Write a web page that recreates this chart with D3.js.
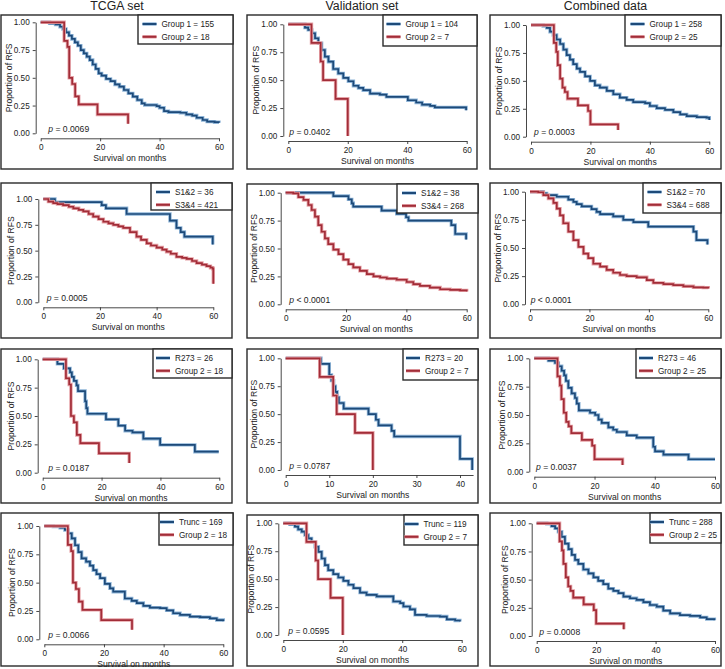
<!DOCTYPE html>
<html><head><meta charset="utf-8">
<script src="https://cdn.jsdelivr.net/npm/d3@7"></script>
<style>
body{margin:0;background:#fff}
svg{display:block}
text{font-family:"Liberation Sans",Arial,Helvetica,sans-serif;fill:#222}
</style>
</head><body>
<svg id="c" width="725" height="669"></svg>
<script>
// ---------------- DATA ----------------
const columnTitles = ["TCGA set", "Validation set", "Combined data"];
const yTicks = [0, 0.25, 0.5, 0.75, 1];
const xTicks60 = [0, 20, 40, 60];
const xTicks40 = [0, 10, 20, 30, 40];
const pValues = ["= 0.0069", "= 0.0402", "= 0.0003",
                 "= 0.0005", "< 0.0001", "< 0.0001",
                 "= 0.0187", "= 0.0787", "= 0.0037",
                 "= 0.0066", "= 0.0595", "= 0.0008"];
const legendLabels = [
  ["Group 1 = 155", "Group 2 = 18"], ["Group 1 = 104", "Group 2 = 7"], ["Group 1 = 258", "Group 2 = 25"],
  ["S1&2 = 36", "S3&4 = 421"], ["S1&2 = 38", "S3&4 = 268"], ["S1&2 = 70", "S3&4 = 688"],
  ["R273 = 26", "Group 2 = 18"], ["R273 = 20", "Group 2 = 7"], ["R273 = 46", "Group 2 = 25"],
  ["Trunc = 169", "Group 2 = 18"], ["Trunc = 119", "Group 2 = 7"], ["Trunc = 288", "Group 2 = 25"]
];

// [month, proportion] step points
const tcgaGroup1 = [[0,1],[3,0.99],[5,0.98],[6.5,0.96],[7.5,0.94],[8.5,0.91],[9.5,0.88],[10.5,0.85],[11.5,0.82],[12.5,0.79],[13.5,0.75],[14.5,0.72],[15.5,0.69],[16.5,0.66],[17.5,0.62],[18.5,0.58],[19.5,0.54],[20.5,0.52],[22,0.49],[23.5,0.47],[25,0.44],[26.5,0.42],[28,0.39],[29.5,0.36],[31,0.33],[32.5,0.30],[34,0.27],[35,0.255],[39,0.245],[40,0.23],[41.5,0.2],[43,0.19],[47,0.185],[49,0.17],[51,0.16],[52.5,0.14],[54.5,0.12],[56,0.105],[58.5,0.1],[60,0.095]];
const tcgaGroup2 = [[0,1],[7.9,0.833],[9.0,0.778],[9.6,0.5],[10.6,0.444],[11.6,0.333],[12.8,0.26],[19.1,0.17],[29.4,0.085]];
const valGroup1 = [[0,1],[5.6,0.97],[6.7,0.95],[7.9,0.92],[9,0.875],[10.1,0.83],[11.2,0.77],[12.3,0.71],[13.5,0.665],[15.1,0.6],[16.8,0.56],[18.5,0.52],[20.2,0.49],[21.9,0.45],[23.6,0.43],[25.2,0.41],[27.5,0.38],[30.8,0.37],[33,0.35],[40.2,0.32],[43,0.30],[45,0.28],[47.7,0.27],[49.3,0.256],[59.8,0.23]];
const valGroup2 = [[0,1],[7.8,0.833],[10.9,0.667],[11.7,0.5],[15.9,0.333],[20,0]];
const combGroup1 = [[0,1],[4.1,0.99],[5.3,0.975],[6.4,0.94],[7.5,0.91],[8.6,0.87],[9.8,0.83],[10.9,0.78],[12,0.73],[13.1,0.69],[14.2,0.65],[15.4,0.61],[16.5,0.58],[18.2,0.54],[19.9,0.50],[21.5,0.46],[23.2,0.44],[25.5,0.41],[27.7,0.38],[29.9,0.35],[32.2,0.33],[34.4,0.31],[38.4,0.30],[40,0.275],[42.3,0.255],[45.1,0.24],[47.9,0.22],[50.2,0.2],[52.4,0.185],[55.8,0.175],[59.1,0.17],[60,0.15]];
const combGroup2 = [[0,1],[7.7,0.84],[8.5,0.76],[9,0.64],[9.8,0.52],[10.6,0.44],[11.4,0.40],[12.3,0.34],[15.8,0.28],[19.2,0.23],[20,0.11],[29.3,0.06]];

const tcgaS12 = [[0,1],[4.1,0.97],[20.6,0.94],[22.1,0.91],[29.4,0.855],[44.7,0.79],[47,0.72],[48.5,0.68],[49.8,0.635],[59.8,0.56]];
const tcgaS34 = [[0,1],[1.8,0.975],[3.5,0.96],[5,0.95],[7,0.94],[9,0.925],[10.6,0.91],[12.5,0.895],[14.1,0.88],[16,0.855],[17.6,0.83],[19.5,0.805],[21.2,0.78],[23,0.765],[24.7,0.75],[26.5,0.735],[28.2,0.72],[30.6,0.68],[32.9,0.635],[34.5,0.605],[36.5,0.57],[38,0.55],[40,0.53],[42,0.51],[43.5,0.49],[45,0.47],[47,0.44],[49,0.43],[50.6,0.42],[52.5,0.40],[54.1,0.38],[56,0.365],[57.6,0.35],[59,0.335],[59.8,0.325],[60,0.18]];
const valS12 = [[0,1],[15.8,0.97],[20.8,0.94],[21.9,0.905],[22.4,0.875],[31.8,0.84],[36.8,0.81],[39.9,0.78],[40.7,0.75],[54.9,0.71],[56.2,0.63],[59.8,0.58]];
const valS34 = [[0,1],[2.5,0.994],[4.2,0.96],[5.9,0.935],[7.5,0.89],[8.6,0.845],[9.7,0.785],[10.8,0.71],[11.9,0.65],[13,0.59],[14.1,0.54],[15.8,0.49],[17.5,0.45],[19.1,0.40],[20.8,0.36],[22.4,0.33],[24.6,0.30],[26.9,0.27],[29.1,0.25],[31.3,0.24],[33.5,0.23],[36.8,0.22],[40.1,0.20],[42.3,0.18],[44.5,0.165],[47.8,0.15],[51.2,0.135],[54.5,0.13],[57.8,0.125],[60,0.115]];
const combS12 = [[0,1],[4.5,0.985],[5.6,0.97],[9,0.955],[12.9,0.93],[14.6,0.91],[15.7,0.89],[17.4,0.87],[20.7,0.845],[22.4,0.82],[23.6,0.80],[28,0.78],[31.4,0.75],[34.8,0.73],[39.8,0.69],[55,0.645],[56,0.57],[59.7,0.53]];
const combS34 = [[0,1],[2.8,0.995],[4.5,0.97],[6.2,0.94],[7.9,0.90],[9,0.85],[10.1,0.79],[11.2,0.72],[12.9,0.645],[14.6,0.57],[16.3,0.51],[18,0.45],[19.6,0.41],[21.3,0.36],[23.6,0.335],[25.8,0.305],[28,0.28],[30.3,0.26],[32.5,0.25],[35.9,0.24],[39.3,0.215],[41.5,0.19],[44.9,0.18],[48.2,0.17],[51.6,0.16],[55,0.15],[58.3,0.148],[60,0.14]];

const tcgaR273 = [[0,1],[5,0.96],[7.2,0.92],[9.3,0.885],[9.9,0.845],[10.6,0.81],[11.5,0.77],[12,0.72],[14.4,0.63],[14.8,0.57],[15.2,0.52],[21.5,0.47],[25.7,0.415],[28,0.37],[30.5,0.355],[34.2,0.30],[39.9,0.245],[51.7,0.185],[59.8,0.185]];
const valR273 = [[0,1],[8.1,0.95],[10,0.85],[10.5,0.80],[11,0.75],[11.4,0.70],[11.8,0.65],[12.2,0.60],[13.3,0.55],[19,0.50],[20.7,0.45],[21.3,0.40],[24.3,0.35],[24.9,0.30],[40,0.10],[42.8,0.0]];
const combR273 = [[0,1],[4.7,0.98],[6.9,0.96],[8,0.93],[9.1,0.89],[9.9,0.85],[10.5,0.80],[11.3,0.74],[12.4,0.69],[13.5,0.65],[14.1,0.60],[14.8,0.54],[18.5,0.52],[20.2,0.50],[21.3,0.46],[22.4,0.43],[24.6,0.39],[26.2,0.37],[27.4,0.35],[30.7,0.32],[34,0.30],[39.5,0.22],[40.1,0.18],[42.9,0.15],[51.2,0.11],[60,0.11]];

const tcgaTrunc = [[0,1],[3,0.995],[5.3,0.985],[6.9,0.965],[8,0.935],[9.2,0.89],[10.3,0.83],[11.4,0.77],[12.5,0.715],[14,0.685],[15.3,0.65],[16.4,0.61],[17.5,0.575],[18.7,0.54],[20.3,0.49],[22,0.45],[23.1,0.42],[27,0.36],[29.3,0.34],[31,0.32],[33.2,0.295],[35.4,0.28],[38.8,0.275],[41,0.255],[43.2,0.23],[45.5,0.215],[48.8,0.2],[52.2,0.195],[55.5,0.185],[57.8,0.17],[60,0.16]];
const valTrunc = [[0,1],[2.2,0.99],[3.9,0.97],[5,0.945],[6.2,0.925],[7.3,0.895],[8.4,0.865],[9.5,0.835],[10.7,0.79],[11.8,0.745],[12.9,0.685],[14,0.625],[15.1,0.58],[16.8,0.545],[18.5,0.515],[20.2,0.485],[21.9,0.45],[23.6,0.42],[25.8,0.38],[28,0.36],[31.4,0.345],[37,0.30],[39.3,0.285],[40.4,0.255],[42.6,0.23],[44.3,0.18],[48.2,0.17],[52.7,0.165],[55,0.14],[57.8,0.13],[59.4,0.12]];
const combTrunc = [[0,1],[3.4,0.995],[5,0.975],[6.2,0.955],[7.3,0.925],[8.4,0.88],[9.5,0.82],[10.7,0.77],[11.8,0.72],[12.9,0.675],[14,0.64],[15.7,0.59],[17.4,0.555],[19.1,0.52],[20.7,0.49],[22.4,0.46],[24.1,0.42],[25.8,0.40],[27.5,0.38],[29.2,0.35],[31.4,0.335],[33.6,0.32],[35.9,0.30],[38.1,0.275],[40.4,0.26],[42.6,0.225],[44.9,0.2],[48.2,0.185],[51.6,0.178],[55,0.165],[57.2,0.15],[59.8,0.14]];

const panelCurves = [
  [tcgaGroup1, tcgaGroup2], [valGroup1, valGroup2], [combGroup1, combGroup2],
  [tcgaS12, tcgaS34], [valS12, valS34], [combS12, combS34],
  [tcgaR273, tcgaGroup2], [valR273, valGroup2], [combR273, combGroup2],
  [tcgaTrunc, tcgaGroup2], [valTrunc, valGroup2], [combTrunc, combGroup2]
];
const panelXMax = [60,60,60, 60,60,60, 60,43,60, 60,60,60];

// ---------------- LAYOUT ----------------
// box:[l,t,r,b], x0/xe: pixel of 0 and last tick, y1/y0: pixel of 1.00 and 0.00,
// leg: legend left, lt: legend text offset, lh: legend height, po: p-label offset
const layout = [
  {box:[1,15,233,169],   x0:40.7, xe:219,   y1:22.3,  y0:133.3, leg:138, lt:23.5, lh:29, po:7.6},
  {box:[247,15,477,169], x0:288.3,xe:466.7, y1:24.3,  y0:136,   leg:383, lt:22.5, lh:31, po:1},
  {box:[490,15,721,169], x0:531,  xe:709.3, y1:25,    y0:136.7, leg:625, lt:24.5, lh:31, po:3},
  {box:[1,183,232,338],  x0:43.3, xe:213.3, y1:199,   y0:302.3, leg:151, lt:24,   lh:27, po:3.4},
  {box:[247,184,478,338],x0:285.7,xe:466.7, y1:192.7, y0:304.3, leg:397, lt:24,   lh:29, po:3.6},
  {box:[490,183,721,338],x0:530,  xe:708.3, y1:191.7, y0:304.3, leg:643, lt:23.5, lh:30, po:0.7},
  {box:[1,349,232,503],  x0:42.7, xe:219.3, y1:359.3, y0:472.7, leg:153, lt:22,   lh:29, po:5.6},
  {box:[247,349,478,503],x0:285.7,xe:460,   y1:358.3, y0:470,   leg:403, lt:22,   lh:31, po:3.6},
  {box:[490,349,721,503],x0:534.3,xe:715,   y1:358.3, y0:471.7, leg:636, lt:22,   lh:29, po:1.7},
  {box:[1,513,233,666],  x0:44.3, xe:223.3, y1:526,   y0:639.3, leg:159, lt:20,   lh:32, po:4},
  {box:[247,515,478,666],x0:283.3,xe:461.7, y1:523.3, y0:635,   leg:404, lt:19.5, lh:30, po:5},
  {box:[490,513,721,666],x0:536.7,xe:715,   y1:523.3, y0:636,   leg:650, lt:19,   lh:30, po:2.6}
];
const colors = [{core:"#1d4a79", halo:"#8fb5d8"}, {core:"#a22d38", halo:"#e6a2a7"}];
const frameColor = "#2a2a2a";

const svg = d3.select("#c");
svg.append("rect").attr("width",725).attr("height",669).attr("fill","#fff");

// column titles
columnTitles.forEach((t,i)=>{
  const b = layout[i].box;
  svg.append("text").attr("x",(b[0]+b[2])/2).attr("y",9.6)
    .attr("text-anchor","middle").style("font-size","12.3px").text(t);
});

layout.forEach((L,i)=>{
  const g = svg.append("g");
  const b = L.box;
  const tickMax = panelXMax[i] === 60 ? 60 : 40;
  const ticks = panelXMax[i] === 60 ? xTicks60 : xTicks40;
  const xs = d3.scaleLinear().domain([0,tickMax]).range([L.x0,L.xe]);
  const xsFull = d3.scaleLinear().domain([0,panelXMax[i]]).range([L.x0, xs(panelXMax[i])]);
  const ys = d3.scaleLinear().domain([0,1]).range([L.y0,L.y1]);

  g.append("rect").attr("x",b[0]).attr("y",b[1]).attr("width",b[2]-b[0]).attr("height",b[3]-b[1])
    .attr("fill","#fff").attr("stroke",frameColor).attr("stroke-width",1.4);

  // y axis
  const ya = g.append("g").attr("transform",`translate(${L.x0-5},0)`)
    .call(d3.axisLeft(ys).tickValues(yTicks).tickSize(3).tickSizeOuter(0).tickFormat(d3.format(".2f")));
  // x axis
  const xa = g.append("g").attr("transform",`translate(0,${L.y0+5})`)
    .call(d3.axisBottom(xsFull).tickValues(ticks).tickSize(3).tickSizeOuter(0).tickFormat(d3.format("d")));
  [ya,xa].forEach(a=>{
    a.attr("font-family",null).attr("font-size",null);
    a.selectAll("path,line").attr("stroke","#333").attr("stroke-width",0.9);
    a.selectAll("text").style("font-size","8.2px").attr("fill","#222");
  });

  // axis titles
  g.append("text").attr("transform",`translate(${L.x0-32},${(L.y0+L.y1)/2}) rotate(-90)`)
    .attr("text-anchor","middle").attr("dy","0.35em").style("font-size","8.6px").text("Proportion of RFS");
  g.append("text").attr("x",(L.x0+L.xe)/2).attr("y",L.y0+28)
    .attr("text-anchor","middle").style("font-size","8.6px").text("Survival on months");

  // curves
  const line = d3.line().x(d=>xsFull(d[0])).y(d=>ys(d[1])).curve(d3.curveStepAfter);
  panelCurves[i].forEach((c,k)=>{
    g.append("path").attr("d",line(c)).attr("fill","none").attr("stroke",colors[k].halo)
      .attr("stroke-width",3.4).attr("stroke-linejoin","miter");
    g.append("path").attr("d",line(c)).attr("fill","none").attr("stroke",colors[k].core)
      .attr("stroke-width",1.7).attr("stroke-linejoin","miter");
  });

  // p-value
  const pt = g.append("text").attr("x",L.x0+L.po).attr("y",L.y0-1.5).style("font-size","8.6px");
  pt.append("tspan").style("font-style","italic").text("p");
  pt.append("tspan").text(" " + pValues[i]);

  // legend
  const lg = g.append("g");
  lg.append("rect").attr("x",L.leg).attr("y",b[1]).attr("width",b[2]-L.leg).attr("height",L.lh)
    .attr("fill","#fff").attr("stroke",frameColor).attr("stroke-width",1.4);
  legendLabels[i].forEach((lab,k)=>{
    const yy = b[1] + 9 + k*12.8;
    const sx2 = L.leg + L.lt - 5, sx1 = sx2 - 14;
    lg.append("line").attr("x1",sx1).attr("x2",sx2).attr("y1",yy).attr("y2",yy)
      .attr("stroke",colors[k].halo).attr("stroke-width",3.4);
    lg.append("line").attr("x1",sx1).attr("x2",sx2).attr("y1",yy).attr("y2",yy)
      .attr("stroke",colors[k].core).attr("stroke-width",2);
    lg.append("text").attr("x",L.leg+L.lt).attr("y",yy).attr("dy","0.35em")
      .style("font-size","8.2px").text(lab);
  });
});
</script>
</body></html>
